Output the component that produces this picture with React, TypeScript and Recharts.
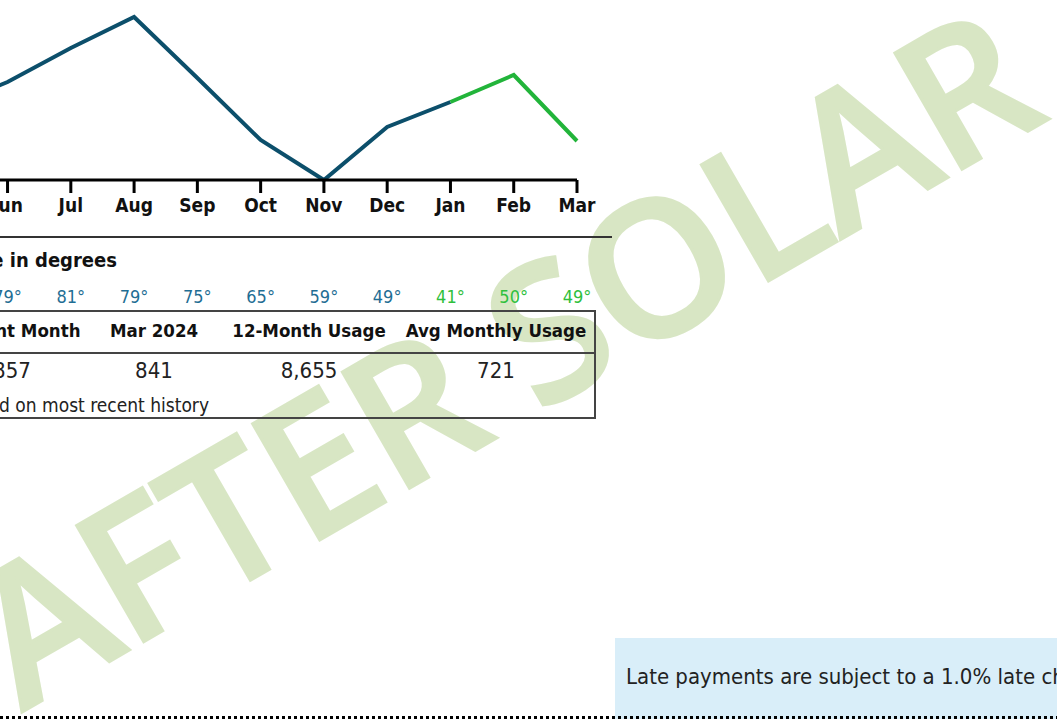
import { LineChart, Line, XAxis, YAxis } from 'recharts';

const months = ['Apr', 'May', 'Jun', 'Jul', 'Aug', 'Sep', 'Oct', 'Nov', 'Dec', 'Jan', 'Feb', 'Mar'];
// kWh per month; before solar (blue) and after solar (green), Jan shared so the line joins
const usageBefore = [560, 660, 790, 960, 1115, 810, 500, 300, 565, 690, null, null];
const usageAfter = [null, null, null, null, null, null, null, null, null, 690, 825, 495];
const temps = [66, 72, 79, 81, 79, 75, 65, 59, 49, 41, 50, 49];
const afterSolar = [false, false, false, false, false, false, false, false, false, true, true, true];

const tableHeaders = ['Current Month', 'Mar 2024', '12-Month Usage', 'Avg Monthly Usage'];
const tableValues = ['857', '841', '8,655', '721'];
const tableCenters = [12, 154, 309, 496];

const data = months.map((m, i) => ({
  month: m,
  before: usageBefore[i],
  after: usageAfter[i],
  temp: temps[i],
}));

const BLUE = '#0c4f6b';
const GREEN = '#22b43a';
const TEMP_BLUE = '#1f6e94';
const TEMP_GREEN = '#2fc03c';
const WATERMARK = '#d8e6c4';
const COND = '"DejaVu Sans Condensed", "DejaVu Sans", sans-serif';

const TempTick = (props: any) => {
  const { x, y, payload } = props;
  const i = payload.index;
  return (
    <text
      x={x}
      y={y + 59}
      textAnchor="middle"
      dominantBaseline="central"
      fontFamily={COND}
      fontSize={18}
      fill={afterSolar[i] ? TEMP_GREEN : TEMP_BLUE}
    >
      {temps[i]}°
    </text>
  );
};

const App = () => {
  return (
    <div
      style={{
        position: 'absolute',
        left: 0,
        top: 0,
        width: 1057,
        height: 719,
        overflow: 'hidden',
        background: '#fff',
        fontFamily: COND,
      }}
    >
      {/* watermark */}
      <svg width={1057} height={719} style={{ position: 'absolute', left: 0, top: 0 }}>
        <text
          x={22}
          y={712}
          transform="rotate(-30 22 712)"
          textLength={1188}
          lengthAdjust="spacing"
          style={{ fontFamily: '"Open Sans"', fontWeight: 600, fontSize: 188 }}
          fill={WATERMARK}
          stroke={WATERMARK}
          strokeWidth={3}
          strokeLinejoin="miter"
        >
          AFTER SOLAR
        </text>
      </svg>

      <div style={{ position: 'absolute', left: -119, top: 0 }}>
        <LineChart
          width={736}
          height={307}
          data={data}
          margin={{ top: 17, right: 40, bottom: 0, left: 0 }}
        >
          <YAxis hide domain={['dataMin', 'dataMax']} />
          <XAxis
            dataKey="month"
            height={57}
            interval={0}
            tickSize={13}
            tickMargin={6}
            axisLine={{ stroke: '#000', strokeWidth: 3 }}
            tickLine={{ stroke: '#000', strokeWidth: 3 }}
            tick={{ fill: '#111', fontSize: 19, fontWeight: 700, fontFamily: COND }}
          />
          <XAxis
            xAxisId="temp"
            dataKey="month"
            height={70}
            interval={0}
            tickSize={0}
            tickMargin={0}
            axisLine={false}
            tickLine={false}
            tick={<TempTick />}
          />
          <Line
            type="linear"
            dataKey="before"
            stroke={BLUE}
            strokeWidth={4}
            dot={false}
            isAnimationActive={false}
            connectNulls={false}
          />
          <Line
            type="linear"
            dataKey="after"
            stroke={GREEN}
            strokeWidth={4}
            dot={false}
            isAnimationActive={false}
            connectNulls={false}
          />
        </LineChart>
      </div>

      {/* rule under month labels */}
      <div style={{ position: 'absolute', left: 0, top: 236, width: 612, height: 2, background: '#333' }} />

      <div
        style={{
          position: 'absolute',
          right: 1057 - 117,
          top: 248,
          height: 24,
          lineHeight: '24px',
          whiteSpace: 'nowrap',
          fontWeight: 700,
          fontSize: 20,
          color: '#111',
        }}
      >
        Average Temperature in degrees
      </div>

      {/* usage table */}
      <div
        style={{
          position: 'absolute',
          left: -200,
          top: 310,
          width: 796,
          height: 109,
          boxSizing: 'border-box',
          border: '2px solid #444',
        }}
      >
        <div style={{ position: 'absolute', left: 0, right: 0, top: 40, height: 2, background: '#444' }} />
      </div>
      {tableHeaders.map((h, i) => (
        <div
          key={h}
          style={{
            position: 'absolute',
            left: tableCenters[i] - 150,
            width: 300,
            top: 319,
            height: 24,
            lineHeight: '24px',
            textAlign: 'center',
            whiteSpace: 'nowrap',
            fontWeight: 700,
            fontSize: 18.5,
            color: '#111',
          }}
        >
          {h}
        </div>
      ))}
      {tableValues.map((v, i) => (
        <div
          key={v}
          style={{
            position: 'absolute',
            left: tableCenters[i] - 150,
            width: 300,
            top: 358,
            height: 26,
            lineHeight: '26px',
            textAlign: 'center',
            whiteSpace: 'nowrap',
            fontSize: 22,
            color: '#222',
          }}
        >
          {v}
        </div>
      ))}
      <div
        style={{
          position: 'absolute',
          right: 1057 - 209,
          top: 393,
          height: 24,
          lineHeight: '24px',
          whiteSpace: 'nowrap',
          fontSize: 19,
          color: '#222',
        }}
      >
        Usage estimate based on most recent history
      </div>

      {/* late payment note */}
      <div
        style={{
          position: 'absolute',
          left: 615,
          top: 638,
          width: 500,
          height: 90,
          background: '#d9eef9',
        }}
      />
      <div
        style={{
          position: 'absolute',
          left: 626,
          top: 663,
          height: 28,
          lineHeight: '28px',
          whiteSpace: 'nowrap',
          fontSize: 22,
          color: '#222',
        }}
      >
        Late payments are subject to a 1.0% late charge on the unpaid balance.
      </div>

      {/* dotted cut line */}
      <div
        style={{
          position: 'absolute',
          left: 0,
          top: 716,
          width: 1057,
          height: 3,
          background: 'repeating-linear-gradient(to right, #000 0 3px, transparent 3px 6px)',
        }}
      />
    </div>
  );
};

export default App;
